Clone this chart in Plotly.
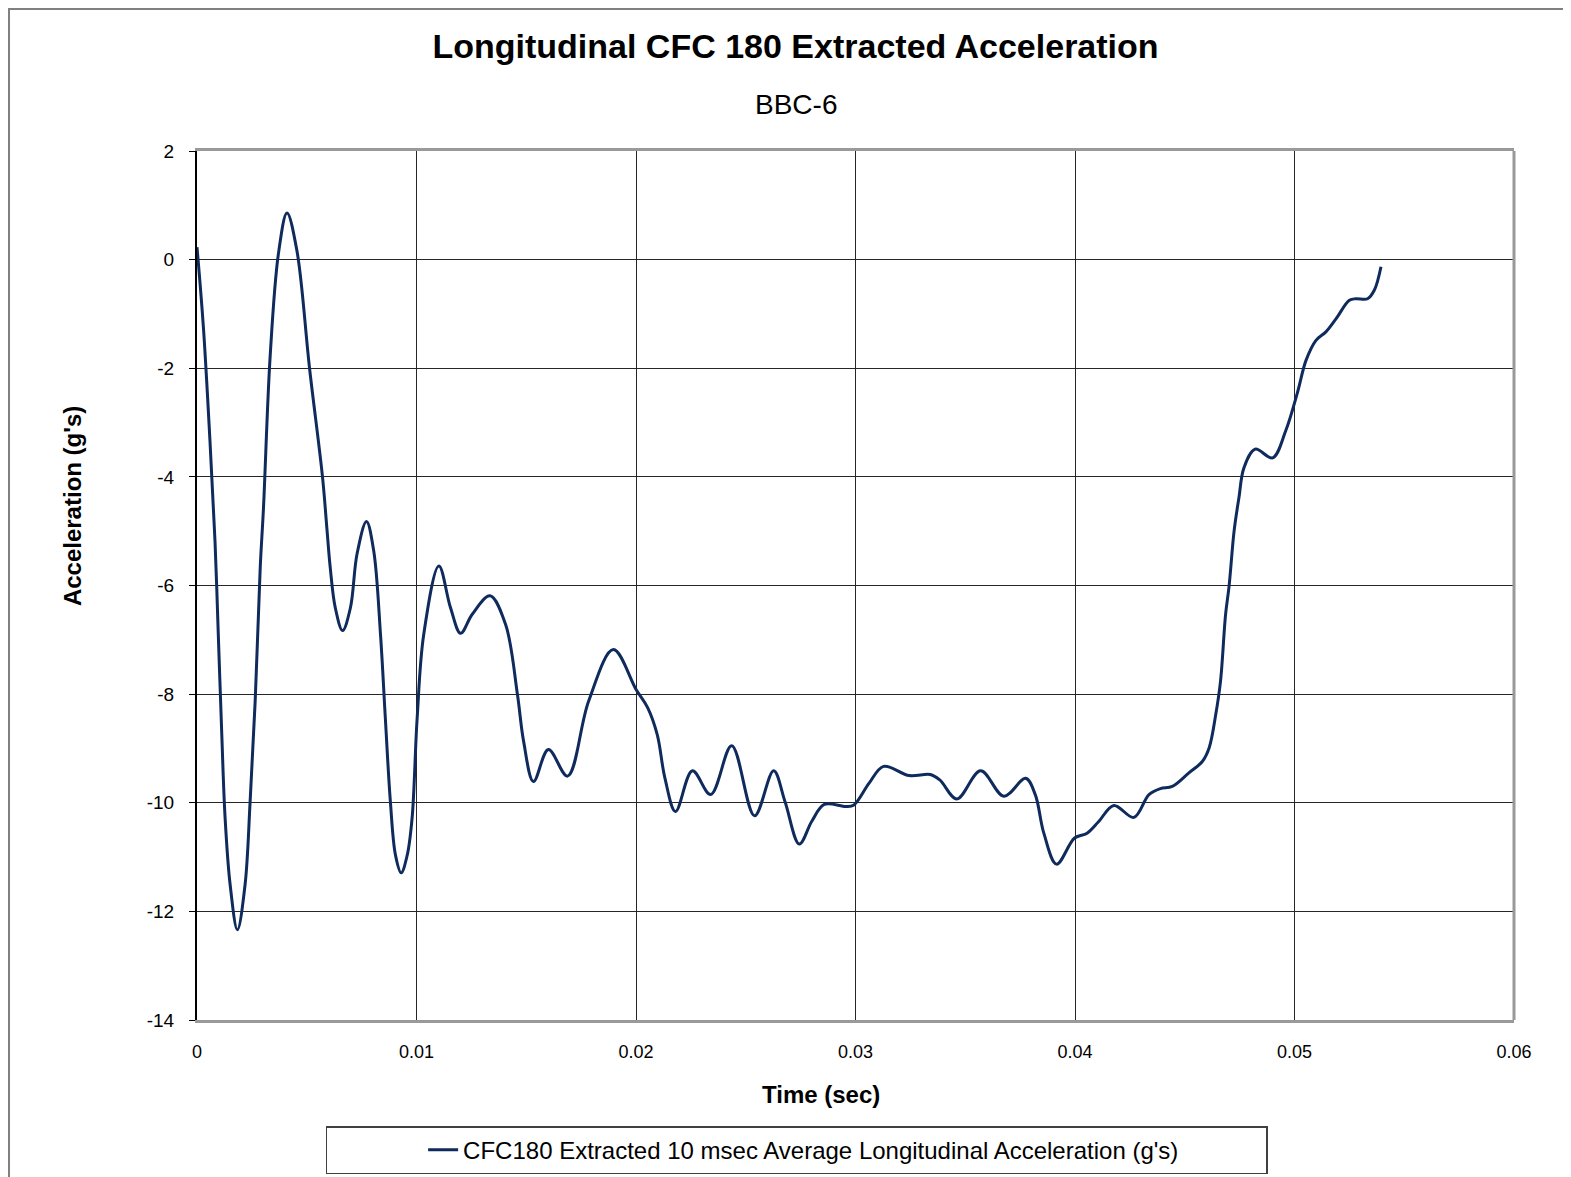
import plotly.graph_objects as go

# Datos (tiempo en s, aceleración en g)
time_s = [0.0, 0.00029, 0.00059, 0.00082, 0.00097, 0.00113, 0.00128, 0.00151, 0.00184,
          0.00219, 0.00242, 0.00265, 0.00288, 0.00303, 0.00333, 0.00371, 0.0041, 0.00455,
          0.00513, 0.00572, 0.00592, 0.00607, 0.0063, 0.00663, 0.00699, 0.00729, 0.00772,
          0.00805, 0.00836, 0.00858, 0.00881, 0.00904, 0.0093, 0.00958, 0.0098, 0.01003,
          0.01033, 0.01102, 0.01155, 0.01201, 0.01254, 0.01335, 0.01406, 0.0146, 0.01488,
          0.01533, 0.01601, 0.01688, 0.01784, 0.01897, 0.02001, 0.02053, 0.02097, 0.02132,
          0.0218, 0.02257, 0.0234, 0.02436, 0.0254, 0.02627, 0.02679, 0.02744, 0.02801,
          0.02858, 0.02958, 0.02993, 0.03062, 0.03128, 0.03245, 0.03341, 0.03384, 0.03462,
          0.0357, 0.03676, 0.03775, 0.03819, 0.03858, 0.03916, 0.03998, 0.04055, 0.04107,
          0.04177, 0.04268, 0.04337, 0.04389, 0.04443, 0.04519, 0.0458, 0.04611, 0.04641,
          0.04663, 0.04686, 0.04702, 0.04725, 0.04747, 0.0477, 0.04821, 0.049, 0.0496,
          0.05014, 0.05052, 0.05097, 0.05143, 0.05189, 0.0525, 0.0528, 0.05333, 0.05364,
          0.05394]
accel_g = [0.23, -1.24, -3.33, -5.18, -6.9, -8.75, -10.28, -11.51, -12.34,
           -11.51, -9.98, -8.13, -5.67, -4.56, -1.8, 0.11, 0.86, 0.17,
           -2.01, -4.01, -4.96, -5.67, -6.41, -6.83, -6.41, -5.42, -4.82,
           -5.36, -6.9, -8.44, -9.98, -10.96, -11.29, -10.96, -10.28, -8.44,
           -6.9, -5.64, -6.41, -6.88, -6.53, -6.19, -6.72, -8.01, -8.87,
           -9.61, -9.02, -9.51, -8.13, -7.18, -7.92, -8.25, -8.75, -9.55,
           -10.16, -9.41, -9.85, -8.95, -10.24, -9.41, -9.98, -10.76, -10.34,
           -10.03, -10.07, -10.04, -9.64, -9.33, -9.5, -9.48, -9.58, -9.93,
           -9.41, -9.88, -9.55, -9.85, -10.56, -11.13, -10.65, -10.56, -10.35,
           -10.05, -10.27, -9.85, -9.74, -9.7, -9.45, -9.24, -8.99, -8.38,
           -7.76, -6.53, -6.01, -4.99, -4.38, -3.83, -3.49, -3.65, -3.15,
           -2.44, -1.86, -1.49, -1.33, -1.09, -0.75, -0.72, -0.72, -0.56,
           -0.13]

x_ticks = [0, 0.01, 0.02, 0.03, 0.04, 0.05, 0.06]
x_tick_labels = ["0", "0.01", "0.02", "0.03", "0.04", "0.05", "0.06"]
y_ticks = [2, 0, -2, -4, -6, -8, -10, -12, -14]
y_tick_labels = ["2", "0", "-2", "-4", "-6", "-8", "-10", "-12", "-14"]

font = "Liberation Sans, Arial, sans-serif"

# La página html tiene 8 px de margen: la figura se dibuja desplazada
S = 1571 / 1568
W, H = 1563, 1169
L, T = 189, 143
PW, PH = 1317, 869
R, B = W - L - PW, H - T - PH


def px(xf):
    return (xf * S - 8 - L) / PW


def py(yf):
    return (T + PH + 8 - yf * S) / PH


fig = go.Figure()
fig.add_trace(go.Scatter(
    x=time_s, y=accel_g,
    mode="lines",
    line=dict(color="#0f2a5c", width=3, shape="spline", smoothing=1.0),
    name="CFC180 Extracted 10 msec Average Longitudinal Acceleration (g's)",
))

fig.update_layout(
    width=W, height=H,
    margin=dict(l=L, r=R, t=T, b=B),
    paper_bgcolor="white", plot_bgcolor="white",
    font=dict(family=font, color="black", size=18),
    title=dict(text="<b>Longitudinal CFC 180 Extracted Acceleration</b>",
               xref="paper", x=px(794), xanchor="center",
               yref="container", y=1 - (46 * S - 8) / H, yanchor="middle",
               font=dict(size=34, color="black")),
    showlegend=True,
    legend=dict(orientation="h", xref="container", x=(325 * S - 8) / W, xanchor="left",
                yref="container", y=1 - (1124 * S - 8) / H, yanchor="top",
                bordercolor="#404040", borderwidth=1.5, bgcolor="white",
                font=dict(size=24), indentation=96, entrywidth=798),
)

fig.update_xaxes(range=[0, 0.06], tickvals=x_ticks, ticktext=x_tick_labels,
                 showgrid=True, gridcolor="#262626", gridwidth=1,
                 showline=True, linecolor="#999999", linewidth=3, mirror=True,
                 ticks="", ticklabelstandoff=13, zeroline=False,
                 tickfont=dict(size=18), automargin=False)
fig.update_yaxes(range=[-14, 2], tickvals=y_ticks, ticktext=y_tick_labels,
                 showgrid=True, gridcolor="#262626", gridwidth=1,
                 showline=True, linecolor="black", linewidth=2, mirror=False,
                 ticks="outside", ticklen=6, tickcolor="black", ticklabelstandoff=11,
                 zeroline=False, tickfont=dict(size=19), automargin=False)

# Borde derecho gris del área de trazado
fig.add_shape(type="line", xref="paper", yref="paper", x0=1, x1=1, y0=0, y1=1,
              line=dict(color="#999999", width=3))
# Marco exterior del gráfico
fig.add_shape(type="rect", xref="paper", yref="paper",
              x0=px(9), x1=px(1600), y0=py(1200), y1=py(9),
              line=dict(color="#808080", width=2), layer="below")

fig.add_annotation(text="BBC-6", xref="paper", yref="paper",
                   x=px(794), y=py(104), xanchor="center", yanchor="middle",
                   showarrow=False, font=dict(size=28))
fig.add_annotation(text="<b>Time (sec)</b>", xref="paper", yref="paper",
                   x=px(819), y=py(1092), xanchor="center", yanchor="middle",
                   showarrow=False, font=dict(size=24))
fig.add_annotation(text="<b>Acceleration (g's)</b>", xref="paper", yref="paper",
                   x=px(73), y=py(505), xanchor="center", yanchor="middle",
                   showarrow=False, textangle=-90, font=dict(size=24))

fig.write_html("out.html")
